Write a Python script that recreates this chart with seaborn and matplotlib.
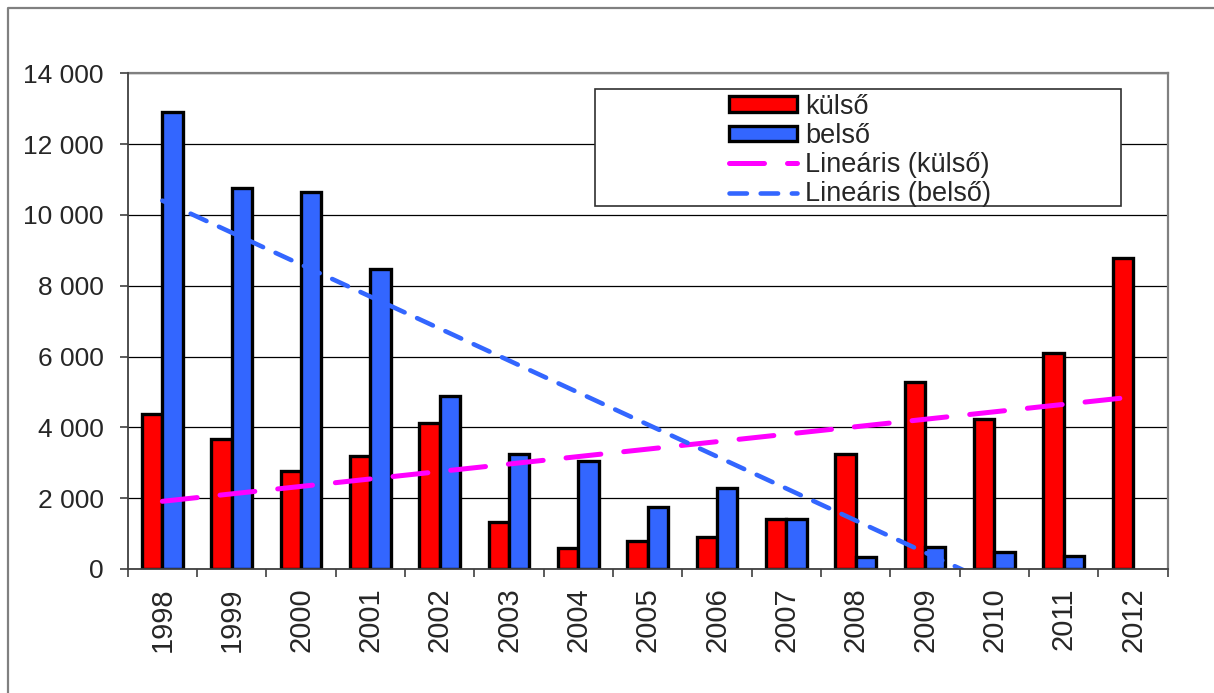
import numpy as np
import pandas as pd
import matplotlib
matplotlib.use("Agg")
import matplotlib.pyplot as plt
import seaborn as sns
from matplotlib.patches import Patch, Rectangle
from matplotlib.lines import Line2D
from matplotlib.ticker import FuncFormatter, FixedLocator

# ---- data ----
years = [str(y) for y in range(1998, 2013)]
kulso = [4380, 3660, 2770, 3190, 4130, 1320, 590, 790, 900, 1400, 3260, 5290, 4230, 6110, 8770]
belso = [12920, 10750, 10640, 8460, 4880, 3240, 3040, 1760, 2300, 1400, 350, 620, 480, 360, 0]
series_names = ["külső", "belső"]
trend_names = ["Lineáris (külső)", "Lineáris (belső)"]
y_ticks = [0, 2000, 4000, 6000, 8000, 10000, 12000, 14000]

RED = "#FF0000"
BLUE = "#3366FF"
MAGENTA = "#FF00FF"

df = pd.DataFrame({
    "year": years * 2,
    "series": [series_names[0]] * len(years) + [series_names[1]] * len(years),
    "value": kulso + belso,
})

sns.set_style("white")
plt.rcParams["font.family"] = ["Liberation Sans", "DejaVu Sans"]

W, H = 1214, 693
fig = plt.figure(figsize=(W / 100, H / 100), dpi=100)
left, right, top, bottom = 127.7, 1167.7, 73.3, 569.0
ax = fig.add_axes([left / W, (H - bottom) / H, (right - left) / W, (bottom - top) / H])

sns.barplot(data=df, x="year", y="value", hue="series", hue_order=series_names,
            palette=[RED, BLUE], saturation=1, width=0.587, gap=0,
            edgecolor="black", linewidth=2.4, ax=ax, legend=False, zorder=3)
# zero-height bars are not drawn (no outline at the baseline)
for p in ax.patches:
    if p.get_height() == 0:
        p.set_visible(False)

# linear trendlines (Excel-style least squares over category index)
xi = np.arange(len(years))
for vals, color, ls, lw in [
    (kulso, MAGENTA, (0, (7, 4.6)), 3.6),
    (belso, BLUE, (0, (3.8, 3)), 3.3),
]:
    k, b = np.polyfit(xi, np.array(vals, dtype=float), 1)
    ax.plot(xi, k * xi + b, color=color, linestyle=ls, linewidth=lw,
            solid_capstyle="round", dash_capstyle="round", zorder=4)

ax.set_xlim(-0.5, len(years) - 0.5)
ax.set_ylim(0, 14000)
ax.set_yticks(y_ticks)
ax.yaxis.set_major_formatter(FuncFormatter(lambda v, p: f"{int(v):,}".replace(",", " ")))
ax.set_xlabel("")
ax.set_ylabel("")

ax.set_xticks(xi)
ax.set_xticklabels(years, rotation=90, fontsize=21)
ax.xaxis.set_minor_locator(FixedLocator(np.arange(-0.5, len(years), 1.0)))
ax.tick_params(axis="x", which="major", length=0, pad=13.5)
ax.tick_params(axis="x", which="minor", length=5.8, width=1.2, color="#404040", direction="out", bottom=True)
ax.tick_params(axis="y", which="major", length=5.8, width=1.2, color="#404040", direction="out",
               pad=11.5, labelsize=19, left=True)

ax.yaxis.grid(True, color="black", linewidth=0.9)
ax.xaxis.grid(False)
ax.set_axisbelow(True)
for s in ["top", "right"]:
    ax.spines[s].set_color("#808080")
    ax.spines[s].set_linewidth(1.6)
for s in ["left", "bottom"]:
    ax.spines[s].set_color("#404040")
    ax.spines[s].set_linewidth(1.3)
    ax.spines[s].set_zorder(5)

# legend box
fig.patches.append(Rectangle((595.3 / W, 1 - 205.7 / H), (1120.7 - 595.3) / W, (205.7 - 89.3) / H,
                             transform=fig.transFigure, facecolor="white", edgecolor="#303030",
                             linewidth=1.2, zorder=10))
handles = [
    Patch(facecolor=RED, edgecolor="black", linewidth=2.4),
    Patch(facecolor=BLUE, edgecolor="black", linewidth=2.4),
    Line2D([0], [0], color=MAGENTA, linestyle=(0, (7, 4.6)), linewidth=3.6, dash_capstyle="round"),
    Line2D([0], [0], color=BLUE, linestyle=(0, (3.8, 3)), linewidth=3.3, dash_capstyle="round"),
]
leg = fig.legend(handles, series_names + trend_names, loc="center left",
                 bbox_to_anchor=(729.3 / W, 1 - 150.5 / H), frameon=False,
                 fontsize=19.5, handlelength=2.5, handleheight=0.5, handletextpad=0.3,
                 labelspacing=0.12, borderpad=0, borderaxespad=0)
leg.set_zorder(11)

# outer chart-area border (left and top visible)
fig.lines.append(Line2D([8 / W, 8 / W, 1.0], [0.0, 1 - 7.5 / H, 1 - 7.5 / H],
                        transform=fig.transFigure, color="#808080", linewidth=1.6))

fig.savefig("out.png", dpi=100, facecolor="white")
